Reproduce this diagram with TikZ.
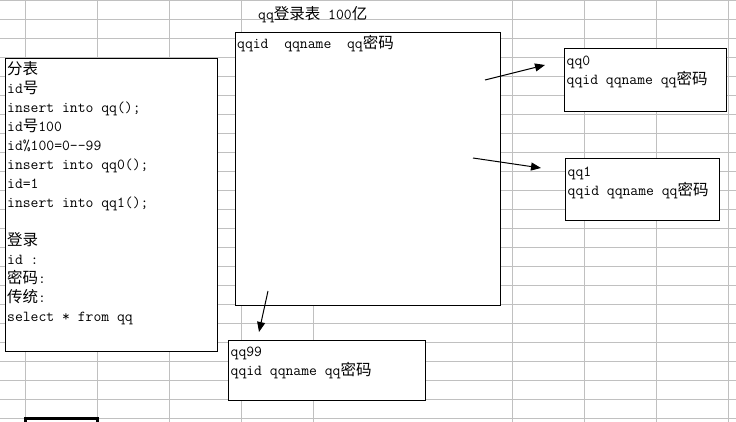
\documentclass[tikz,border=0pt]{standalone}
\usepackage{fontspec}
\newfontfamily\cjk{Noto Sans CJK SC}
\usetikzlibrary{arrows.meta}
\definecolor{gridgray}{RGB}{192,192,192}
\newcommand\zh[1]{{\cjk\fontsize{15.5pt}{19pt}\selectfont #1}}
\begin{document}
\begin{tikzpicture}[x=1pt,y=-1pt,
  grid/.style={draw=gridgray, line width=1pt},
  box/.style={draw=black, fill=white, line width=1pt, inner sep=0pt, anchor=north west},
  txt/.style={anchor=base west, inner sep=0pt, font=\ttfamily\fontsize{15.24pt}{19pt}\selectfont},
  conn/.style={draw=black, line width=1pt, -{Triangle[length=10pt,width=8pt]}},
  cellsel/.style={draw=black, line width=2.6pt}]
\useasboundingbox (0,0) rectangle (736,422);
\begin{scope}
\clip (0,0) rectangle (736,422);
% spreadsheet grid
\foreach \k in {0,...,22} \draw[grid] (0,19*\k+0.3) -- (736,19*\k+0.3);
\foreach \x in {25.3,97.3,169.3,241.5,512.3,584.3,656.3,728.5} \draw[grid] (\x,0) -- (\x,422);
\draw[grid] (313.3,304) -- (313.3,422);
% active cell outline
\draw[cellsel] (25.3,432) -- (25.3,418.7) -- (97.3,418.7) -- (97.3,432);
% title
\node[txt] (title) at (258,20) {qq\zh{登录表} 100\zh{亿}};
% boxes
\node[box, minimum width=212pt, minimum height=292pt] (left) at (4.5,58.5) {};
\node[box, minimum width=265pt, minimum height=272pt] (main) at (234.5,32.5) {};
\node[box, minimum width=162pt, minimum height=62.5pt] (qq0) at (563.5,48.5) {};
\node[box, minimum width=154pt, minimum height=62pt] (qq1) at (564.5,158.5) {};
\node[box, minimum width=197pt, minimum height=60pt] (qq99) at (227.5,339.5) {};
% texts
\node[txt] (lefttext) at (7,75) {\vtop{\baselineskip=19pt
  \hbox{\zh{分表}}
  \hbox{id\zh{号}}
  \hbox{insert into qq();}
  \hbox{id\zh{号}100}
  \hbox{id\%100=0-{}-99}
  \hbox{insert into qq0();}
  \hbox{id=1}
  \hbox{insert into qq1();}
  \hbox{}
  \hbox{\zh{登录}}
  \hbox{id :}
  \hbox{\zh{密码}:}
  \hbox{\zh{传统}:}
  \hbox{select * from qq}}};
\node[txt] (maintext) at (237,48.5) {qqid~~qqname~~qq\zh{密码}};
\node[txt] (qq0text) at (566.5,66) {\vtop{\baselineskip=19pt
  \hbox{qq0}\hbox{qqid qqname qq\zh{密码}}}};
\node[txt] (qq1text) at (567.5,176.5) {\vtop{\baselineskip=19pt
  \hbox{qq1}\hbox{qqid qqname qq\zh{密码}}}};
\node[txt] (qq99text) at (230.5,356) {\vtop{\baselineskip=19pt
  \hbox{qq99}\hbox{qqid qqname qq\zh{密码}}}};
% connectors
\coordinate (a0s) at (485,80);
\coordinate (a0e) at (545,65);
\coordinate (a1s) at (473,158);
\coordinate (a1e) at (541,168);
\coordinate (a2s) at (268,291);
\coordinate (a2e) at (259,332);
\draw[conn] (a0s) -- (a0e);
\draw[conn] (a1s) -- (a1e);
\draw[conn] (a2s) -- (a2e);
\end{scope}
\end{tikzpicture}
\end{document}
